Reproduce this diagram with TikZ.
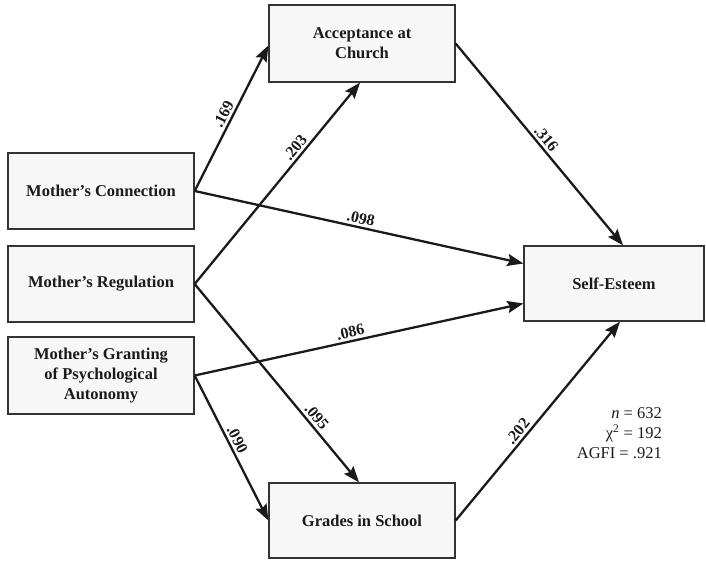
\documentclass[tikz,border=0pt]{standalone}
\usepackage{fontspec}
\setmainfont{Liberation Serif}
\usetikzlibrary{arrows.meta}
\definecolor{boxfill}{HTML}{F7F7F7}
\definecolor{boxline}{HTML}{333333}
\definecolor{ink}{HTML}{1A1A1A}
\begin{document}
\begin{tikzpicture}[x=1pt,y=-1pt,
  varbox/.style={draw=boxline, line width=1.3pt, fill=boxfill, minimum width=186pt, minimum height=76pt, inner sep=0pt, align=center, font=\fontsize{16.5}{20}\selectfont\bfseries, text=ink},
  path/.style={draw=ink, line width=2.3pt, -{Stealth[length=16pt,width=12pt,inset=2.5pt]}},
  coef/.style={sloped, above, font=\fontsize{16}{18}\selectfont\bfseries, text=ink, inner sep=2.5pt}]
\useasboundingbox (0,0) rectangle (706,561);
\node[varbox] (con) at (101,191) {Mother’s Connection};
\node[varbox] (reg) at (101,284) {Mother’s Regulation};
\node[varbox, minimum height=77pt] (gra) at (101,375.5) {Mother’s Granting\\of Psychological\\Autonomy};
\node[varbox, minimum height=77pt] (acc) at (362,43.5) {Acceptance at\\Church};
\node[varbox, minimum height=75pt] (gr) at (362,520.5) {Grades in School};
\node[varbox, minimum width=180pt, minimum height=75pt] (se) at (614,283.5) {Self-Esteem};
\coordinate (seA) at ([yshift=20pt]se.west);
\coordinate (seB) at ([yshift=-20pt]se.west);
\coordinate (seT) at ([xshift=9pt]se.north);
\coordinate (seS) at ([xshift=6pt]se.south);
\coordinate (accS) at ([xshift=-2pt]acc.south);
\coordinate (grN) at ([xshift=-3pt]gr.north);
\draw[path] (con.east) -- node[coef, pos=0.5] {.169} ([yshift=-2pt]acc.west);
\draw[path] (con.east) -- node[coef, pos=0.5] {.098} (seA);
\draw[path] (reg.east) -- node[coef, pos=0.65] {.203} (accS);
\draw[path] (reg.east) -- node[coef, pos=0.7] {.095} (grN);
\draw[path] (gra.east) -- node[coef, pos=0.48] {.086} (seB);
\draw[path] (gra.east) -- node[coef, pos=0.47] {.090} (gr.west);
\draw[path] (acc.east) -- node[coef, pos=0.5] {.316} (seT);
\draw[path] (gr.east) -- node[coef, pos=0.42] {.202} (seS);
\node[anchor=east, align=right, font=\fontsize{16.5}{20}\selectfont, text=ink, inner sep=0pt] (stats) at (662,433)
  {\textit{n} = 632\\χ\textsuperscript{2} = 192\\AGFI = .921};
\end{tikzpicture}
\end{document}
